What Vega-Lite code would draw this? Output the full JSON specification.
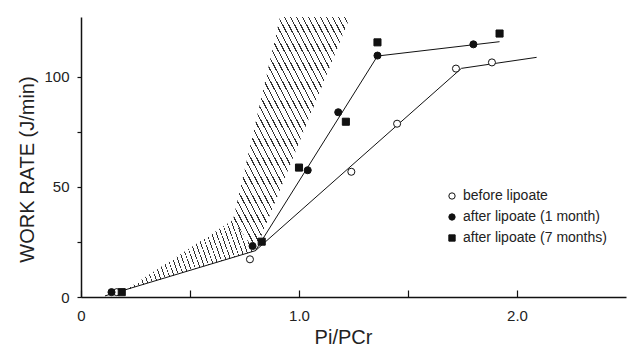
{
  "$schema": "https://vega.github.io/schema/vega-lite/v6.json",
  "width": 545,
  "height": 280,
  "autosize": {"type": "none"},
  "padding": {"left": 81, "top": 17, "right": 2, "bottom": 56},
  "background": "white",
  "config": {
    "view": {"stroke": null},
    "font": "Liberation Sans",
    "axis": {"grid": false, "domainColor": "#111", "domainWidth": 1.5, "tickColor": "#111", "tickWidth": 1.2, "labelColor": "#222", "titleColor": "#222", "labelFont": "Liberation Sans", "titleFont": "Liberation Sans", "titleFontWeight": "normal"}
  },
  "datasets": {
    "hatchLow": [
      {"x": 0.20, "y": 2.9, "y2": 2.9},
      {"x": 0.697, "y": 17.9, "y2": 34.9},
      {"x": 0.80, "y": 21, "y2": 21}
    ],
    "hatchHigh": [
      {"x": 0.697, "y": 34.9, "y2": 34.9},
      {"x": 0.80, "y": 21, "y2": 78.8},
      {"x": 0.913, "y": 48.6, "y2": 127},
      {"x": 1.234, "y": 127, "y2": 127}
    ],
    "fits": [
      {"curve": "before", "x": 0.11, "y": 0.5},
      {"curve": "before", "x": 0.80, "y": 21},
      {"curve": "before", "x": 1.745, "y": 103.7},
      {"curve": "before", "x": 2.09, "y": 108.7},
      {"curve": "after", "x": 0.80, "y": 21},
      {"curve": "after", "x": 1.36, "y": 109.3},
      {"curve": "after", "x": 1.92, "y": 115.8}
    ],
    "points": [
      {"series": "before lipoate", "x": 0.164, "y": 2.2},
      {"series": "before lipoate", "x": 0.775, "y": 17.1},
      {"series": "before lipoate", "x": 1.24, "y": 56.8},
      {"series": "before lipoate", "x": 1.45, "y": 78.6},
      {"series": "before lipoate", "x": 1.72, "y": 103.6},
      {"series": "before lipoate", "x": 1.885, "y": 106.4},
      {"series": "after lipoate (1 month)", "x": 0.14, "y": 2.2},
      {"series": "after lipoate (1 month)", "x": 0.787, "y": 23.1},
      {"series": "after lipoate (1 month)", "x": 1.04, "y": 57.5},
      {"series": "after lipoate (1 month)", "x": 1.18, "y": 83.8},
      {"series": "after lipoate (1 month)", "x": 1.36, "y": 109.5},
      {"series": "after lipoate (1 month)", "x": 1.80, "y": 114.6},
      {"series": "after lipoate (7 months)", "x": 0.187, "y": 2.2},
      {"series": "after lipoate (7 months)", "x": 0.829, "y": 25.1},
      {"series": "after lipoate (7 months)", "x": 1.0, "y": 58.7},
      {"series": "after lipoate (7 months)", "x": 1.215, "y": 79.5},
      {"series": "after lipoate (7 months)", "x": 1.36, "y": 115.5},
      {"series": "after lipoate (7 months)", "x": 1.92, "y": 119.5}
    ]
  },
  "encoding": {
    "x": {
      "field": "x", "type": "quantitative",
      "scale": {"domain": [0, 2.5], "nice": false, "zero": false},
      "axis": {
        "values": [0, 0.5, 1, 1.5, 2],
        "labelExpr": "datum.value == 0 ? '0' : datum.value == 1 ? '1.0' : datum.value == 2 ? '2.0' : ''",
        "tickSize": -7,
        "labelPadding": 18,
        "labelFlush": false,
        "labelFontSize": 15,
        "title": "Pi/PCr",
        "titleFontSize": 20,
        "titleX": 262,
        "titleY": 46,
        "titleAnchor": null,
        "titleAlign": "center",
        "titleBaseline": "alphabetic"
      }
    },
    "y": {
      "field": "y", "type": "quantitative",
      "scale": {"domain": [0, 127], "nice": false, "zero": false},
      "axis": {
        "values": [0, 25, 50, 75, 100],
        "labelExpr": "datum.value == 25 || datum.value == 75 ? '' : datum.label",
        "tickSize": 4,
        "labelPadding": 8,
        "labelFontSize": 15,
        "title": "WORK RATE (J/min)",
        "titleFontSize": 20,
        "titleAngle": -90,
        "titleX": -54,
        "titleY": 152,
        "titleAlign": "center",
        "titleBaseline": "middle"
      }
    }
  },
  "layer": [
    {
      "data": {"name": "hatchLow"},
      "mark": {
        "type": "area",
        "fill": {
          "gradient": "linear",
          "x1": 0, "y1": 1, "x2": 1.069, "y2": 0.794,
          "stops": [
            {"offset": 0, "color": "#fff"},
            {"offset": 0.0100, "color": "#fff"}, {"offset": 0.0100, "color": "#333"}, {"offset": 0.0162, "color": "#333"}, {"offset": 0.0162, "color": "#fff"},
            {"offset": 0.0431, "color": "#fff"}, {"offset": 0.0431, "color": "#333"}, {"offset": 0.0493, "color": "#333"}, {"offset": 0.0493, "color": "#fff"},
            {"offset": 0.0762, "color": "#fff"}, {"offset": 0.0762, "color": "#333"}, {"offset": 0.0824, "color": "#333"}, {"offset": 0.0824, "color": "#fff"},
            {"offset": 0.1093, "color": "#fff"}, {"offset": 0.1093, "color": "#333"}, {"offset": 0.1155, "color": "#333"}, {"offset": 0.1155, "color": "#fff"},
            {"offset": 0.1424, "color": "#fff"}, {"offset": 0.1424, "color": "#333"}, {"offset": 0.1486, "color": "#333"}, {"offset": 0.1486, "color": "#fff"},
            {"offset": 0.1755, "color": "#fff"}, {"offset": 0.1755, "color": "#333"}, {"offset": 0.1817, "color": "#333"}, {"offset": 0.1817, "color": "#fff"},
            {"offset": 0.2086, "color": "#fff"}, {"offset": 0.2086, "color": "#333"}, {"offset": 0.2148, "color": "#333"}, {"offset": 0.2148, "color": "#fff"},
            {"offset": 0.2417, "color": "#fff"}, {"offset": 0.2417, "color": "#333"}, {"offset": 0.2479, "color": "#333"}, {"offset": 0.2479, "color": "#fff"},
            {"offset": 0.2748, "color": "#fff"}, {"offset": 0.2748, "color": "#333"}, {"offset": 0.2810, "color": "#333"}, {"offset": 0.2810, "color": "#fff"},
            {"offset": 0.3079, "color": "#fff"}, {"offset": 0.3079, "color": "#333"}, {"offset": 0.3141, "color": "#333"}, {"offset": 0.3141, "color": "#fff"},
            {"offset": 0.3410, "color": "#fff"}, {"offset": 0.3410, "color": "#333"}, {"offset": 0.3472, "color": "#333"}, {"offset": 0.3472, "color": "#fff"},
            {"offset": 0.3741, "color": "#fff"}, {"offset": 0.3741, "color": "#333"}, {"offset": 0.3803, "color": "#333"}, {"offset": 0.3803, "color": "#fff"},
            {"offset": 0.4072, "color": "#fff"}, {"offset": 0.4072, "color": "#333"}, {"offset": 0.4134, "color": "#333"}, {"offset": 0.4134, "color": "#fff"},
            {"offset": 0.4403, "color": "#fff"}, {"offset": 0.4403, "color": "#333"}, {"offset": 0.4465, "color": "#333"}, {"offset": 0.4465, "color": "#fff"},
            {"offset": 0.4734, "color": "#fff"}, {"offset": 0.4734, "color": "#333"}, {"offset": 0.4796, "color": "#333"}, {"offset": 0.4796, "color": "#fff"},
            {"offset": 0.5065, "color": "#fff"}, {"offset": 0.5065, "color": "#333"}, {"offset": 0.5127, "color": "#333"}, {"offset": 0.5127, "color": "#fff"},
            {"offset": 0.5396, "color": "#fff"}, {"offset": 0.5396, "color": "#333"}, {"offset": 0.5458, "color": "#333"}, {"offset": 0.5458, "color": "#fff"},
            {"offset": 0.5727, "color": "#fff"}, {"offset": 0.5727, "color": "#333"}, {"offset": 0.5789, "color": "#333"}, {"offset": 0.5789, "color": "#fff"},
            {"offset": 0.6058, "color": "#fff"}, {"offset": 0.6058, "color": "#333"}, {"offset": 0.6120, "color": "#333"}, {"offset": 0.6120, "color": "#fff"},
            {"offset": 0.6389, "color": "#fff"}, {"offset": 0.6389, "color": "#333"}, {"offset": 0.6451, "color": "#333"}, {"offset": 0.6451, "color": "#fff"},
            {"offset": 0.6720, "color": "#fff"}, {"offset": 0.6720, "color": "#333"}, {"offset": 0.6782, "color": "#333"}, {"offset": 0.6782, "color": "#fff"},
            {"offset": 0.7051, "color": "#fff"}, {"offset": 0.7051, "color": "#333"}, {"offset": 0.7113, "color": "#333"}, {"offset": 0.7113, "color": "#fff"},
            {"offset": 0.7382, "color": "#fff"}, {"offset": 0.7382, "color": "#333"}, {"offset": 0.7444, "color": "#333"}, {"offset": 0.7444, "color": "#fff"},
            {"offset": 0.7713, "color": "#fff"}, {"offset": 0.7713, "color": "#333"}, {"offset": 0.7775, "color": "#333"}, {"offset": 0.7775, "color": "#fff"},
            {"offset": 0.8044, "color": "#fff"}, {"offset": 0.8044, "color": "#333"}, {"offset": 0.8106, "color": "#333"}, {"offset": 0.8106, "color": "#fff"},
            {"offset": 0.8375, "color": "#fff"}, {"offset": 0.8375, "color": "#333"}, {"offset": 0.8437, "color": "#333"}, {"offset": 0.8437, "color": "#fff"},
            {"offset": 0.8706, "color": "#fff"}, {"offset": 0.8706, "color": "#333"}, {"offset": 0.8768, "color": "#333"}, {"offset": 0.8768, "color": "#fff"},
            {"offset": 0.9037, "color": "#fff"}, {"offset": 0.9037, "color": "#333"}, {"offset": 0.9099, "color": "#333"}, {"offset": 0.9099, "color": "#fff"},
            {"offset": 0.9368, "color": "#fff"}, {"offset": 0.9368, "color": "#333"}, {"offset": 0.9430, "color": "#333"}, {"offset": 0.9430, "color": "#fff"},
            {"offset": 0.9699, "color": "#fff"}, {"offset": 0.9699, "color": "#333"}, {"offset": 0.9761, "color": "#333"}, {"offset": 0.9761, "color": "#fff"},
            {"offset": 1, "color": "#fff"}
          ]
        }
      },
      "encoding": {
        "y2": {"field": "y2"}
      }
    },
    {
      "data": {"name": "hatchHigh"},
      "mark": {
        "type": "area",
        "fill": {
          "gradient": "linear",
          "x1": -0.434, "y1": 0.456, "x2": 0.475, "y2": -0.499,
          "stops": [
            {"offset": 0, "color": "#fff"},
            {"offset": 0.0080, "color": "#fff"}, {"offset": 0.0080, "color": "#333"}, {"offset": 0.0135, "color": "#333"}, {"offset": 0.0135, "color": "#fff"},
            {"offset": 0.0348, "color": "#fff"}, {"offset": 0.0348, "color": "#333"}, {"offset": 0.0403, "color": "#333"}, {"offset": 0.0403, "color": "#fff"},
            {"offset": 0.0616, "color": "#fff"}, {"offset": 0.0616, "color": "#333"}, {"offset": 0.0671, "color": "#333"}, {"offset": 0.0671, "color": "#fff"},
            {"offset": 0.0884, "color": "#fff"}, {"offset": 0.0884, "color": "#333"}, {"offset": 0.0939, "color": "#333"}, {"offset": 0.0939, "color": "#fff"},
            {"offset": 0.1152, "color": "#fff"}, {"offset": 0.1152, "color": "#333"}, {"offset": 0.1207, "color": "#333"}, {"offset": 0.1207, "color": "#fff"},
            {"offset": 0.1420, "color": "#fff"}, {"offset": 0.1420, "color": "#333"}, {"offset": 0.1475, "color": "#333"}, {"offset": 0.1475, "color": "#fff"},
            {"offset": 0.1688, "color": "#fff"}, {"offset": 0.1688, "color": "#333"}, {"offset": 0.1743, "color": "#333"}, {"offset": 0.1743, "color": "#fff"},
            {"offset": 0.1956, "color": "#fff"}, {"offset": 0.1956, "color": "#333"}, {"offset": 0.2011, "color": "#333"}, {"offset": 0.2011, "color": "#fff"},
            {"offset": 0.2224, "color": "#fff"}, {"offset": 0.2224, "color": "#333"}, {"offset": 0.2279, "color": "#333"}, {"offset": 0.2279, "color": "#fff"},
            {"offset": 0.2492, "color": "#fff"}, {"offset": 0.2492, "color": "#333"}, {"offset": 0.2547, "color": "#333"}, {"offset": 0.2547, "color": "#fff"},
            {"offset": 0.2760, "color": "#fff"}, {"offset": 0.2760, "color": "#333"}, {"offset": 0.2815, "color": "#333"}, {"offset": 0.2815, "color": "#fff"},
            {"offset": 0.3028, "color": "#fff"}, {"offset": 0.3028, "color": "#333"}, {"offset": 0.3083, "color": "#333"}, {"offset": 0.3083, "color": "#fff"},
            {"offset": 0.3296, "color": "#fff"}, {"offset": 0.3296, "color": "#333"}, {"offset": 0.3351, "color": "#333"}, {"offset": 0.3351, "color": "#fff"},
            {"offset": 0.3564, "color": "#fff"}, {"offset": 0.3564, "color": "#333"}, {"offset": 0.3619, "color": "#333"}, {"offset": 0.3619, "color": "#fff"},
            {"offset": 0.3832, "color": "#fff"}, {"offset": 0.3832, "color": "#333"}, {"offset": 0.3887, "color": "#333"}, {"offset": 0.3887, "color": "#fff"},
            {"offset": 0.4100, "color": "#fff"}, {"offset": 0.4100, "color": "#333"}, {"offset": 0.4155, "color": "#333"}, {"offset": 0.4155, "color": "#fff"},
            {"offset": 0.4368, "color": "#fff"}, {"offset": 0.4368, "color": "#333"}, {"offset": 0.4423, "color": "#333"}, {"offset": 0.4423, "color": "#fff"},
            {"offset": 0.4636, "color": "#fff"}, {"offset": 0.4636, "color": "#333"}, {"offset": 0.4691, "color": "#333"}, {"offset": 0.4691, "color": "#fff"},
            {"offset": 0.4904, "color": "#fff"}, {"offset": 0.4904, "color": "#333"}, {"offset": 0.4959, "color": "#333"}, {"offset": 0.4959, "color": "#fff"},
            {"offset": 0.5172, "color": "#fff"}, {"offset": 0.5172, "color": "#333"}, {"offset": 0.5227, "color": "#333"}, {"offset": 0.5227, "color": "#fff"},
            {"offset": 0.5440, "color": "#fff"}, {"offset": 0.5440, "color": "#333"}, {"offset": 0.5495, "color": "#333"}, {"offset": 0.5495, "color": "#fff"},
            {"offset": 0.5708, "color": "#fff"}, {"offset": 0.5708, "color": "#333"}, {"offset": 0.5763, "color": "#333"}, {"offset": 0.5763, "color": "#fff"},
            {"offset": 0.5976, "color": "#fff"}, {"offset": 0.5976, "color": "#333"}, {"offset": 0.6031, "color": "#333"}, {"offset": 0.6031, "color": "#fff"},
            {"offset": 0.6244, "color": "#fff"}, {"offset": 0.6244, "color": "#333"}, {"offset": 0.6299, "color": "#333"}, {"offset": 0.6299, "color": "#fff"},
            {"offset": 0.6512, "color": "#fff"}, {"offset": 0.6512, "color": "#333"}, {"offset": 0.6567, "color": "#333"}, {"offset": 0.6567, "color": "#fff"},
            {"offset": 0.6780, "color": "#fff"}, {"offset": 0.6780, "color": "#333"}, {"offset": 0.6835, "color": "#333"}, {"offset": 0.6835, "color": "#fff"},
            {"offset": 0.7048, "color": "#fff"}, {"offset": 0.7048, "color": "#333"}, {"offset": 0.7103, "color": "#333"}, {"offset": 0.7103, "color": "#fff"},
            {"offset": 0.7316, "color": "#fff"}, {"offset": 0.7316, "color": "#333"}, {"offset": 0.7371, "color": "#333"}, {"offset": 0.7371, "color": "#fff"},
            {"offset": 0.7584, "color": "#fff"}, {"offset": 0.7584, "color": "#333"}, {"offset": 0.7639, "color": "#333"}, {"offset": 0.7639, "color": "#fff"},
            {"offset": 0.7852, "color": "#fff"}, {"offset": 0.7852, "color": "#333"}, {"offset": 0.7907, "color": "#333"}, {"offset": 0.7907, "color": "#fff"},
            {"offset": 0.8120, "color": "#fff"}, {"offset": 0.8120, "color": "#333"}, {"offset": 0.8175, "color": "#333"}, {"offset": 0.8175, "color": "#fff"},
            {"offset": 0.8388, "color": "#fff"}, {"offset": 0.8388, "color": "#333"}, {"offset": 0.8443, "color": "#333"}, {"offset": 0.8443, "color": "#fff"},
            {"offset": 0.8656, "color": "#fff"}, {"offset": 0.8656, "color": "#333"}, {"offset": 0.8711, "color": "#333"}, {"offset": 0.8711, "color": "#fff"},
            {"offset": 0.8924, "color": "#fff"}, {"offset": 0.8924, "color": "#333"}, {"offset": 0.8979, "color": "#333"}, {"offset": 0.8979, "color": "#fff"},
            {"offset": 0.9192, "color": "#fff"}, {"offset": 0.9192, "color": "#333"}, {"offset": 0.9247, "color": "#333"}, {"offset": 0.9247, "color": "#fff"},
            {"offset": 0.9460, "color": "#fff"}, {"offset": 0.9460, "color": "#333"}, {"offset": 0.9515, "color": "#333"}, {"offset": 0.9515, "color": "#fff"},
            {"offset": 0.9728, "color": "#fff"}, {"offset": 0.9728, "color": "#333"}, {"offset": 0.9783, "color": "#333"}, {"offset": 0.9783, "color": "#fff"},
            {"offset": 1, "color": "#fff"}
          ]
        }
      },
      "encoding": {
        "y2": {"field": "y2"}
      }
    },
    {
      "data": {"name": "fits"},
      "mark": {"type": "line", "color": "#111", "strokeWidth": 1},
      "encoding": {
        "detail": {"field": "curve", "type": "nominal"}
      }
    },
    {
      "data": {"name": "points"},
      "mark": {"type": "point", "size": 50, "strokeWidth": 1, "opacity": 1, "fillOpacity": 1},
      "encoding": {
        "shape": {
          "field": "series", "type": "nominal",
          "scale": {"domain": ["before lipoate", "after lipoate (1 month)", "after lipoate (7 months)"], "range": ["circle", "circle", "square"]},
          "legend": {"title": null, "orient": "none", "legendX": 364, "legendY": 172, "padding": 0, "labelFontSize": 14, "labelFont": "Liberation Sans", "labelColor": "#222", "symbolSize": 40, "symbolStrokeWidth": 1, "rowPadding": 7, "labelOffset": 4}
        },
        "fill": {
          "field": "series", "type": "nominal",
          "scale": {"domain": ["before lipoate", "after lipoate (1 month)", "after lipoate (7 months)"], "range": ["#ffffff", "#111111", "#111111"]},
          "legend": {"title": null, "orient": "none", "legendX": 364, "legendY": 172, "padding": 0, "labelFontSize": 14, "labelFont": "Liberation Sans", "labelColor": "#222", "symbolSize": 40, "symbolStrokeWidth": 1, "rowPadding": 7, "labelOffset": 4}
        },
        "stroke": {
          "field": "series", "type": "nominal",
          "scale": {"domain": ["before lipoate", "after lipoate (1 month)", "after lipoate (7 months)"], "range": ["#111111", "#111111", "#111111"]},
          "legend": {"title": null, "orient": "none", "legendX": 364, "legendY": 172, "padding": 0, "labelFontSize": 14, "labelFont": "Liberation Sans", "labelColor": "#222", "symbolSize": 40, "symbolStrokeWidth": 1, "rowPadding": 7, "labelOffset": 4}
        }
      }
    }
  ]
}
